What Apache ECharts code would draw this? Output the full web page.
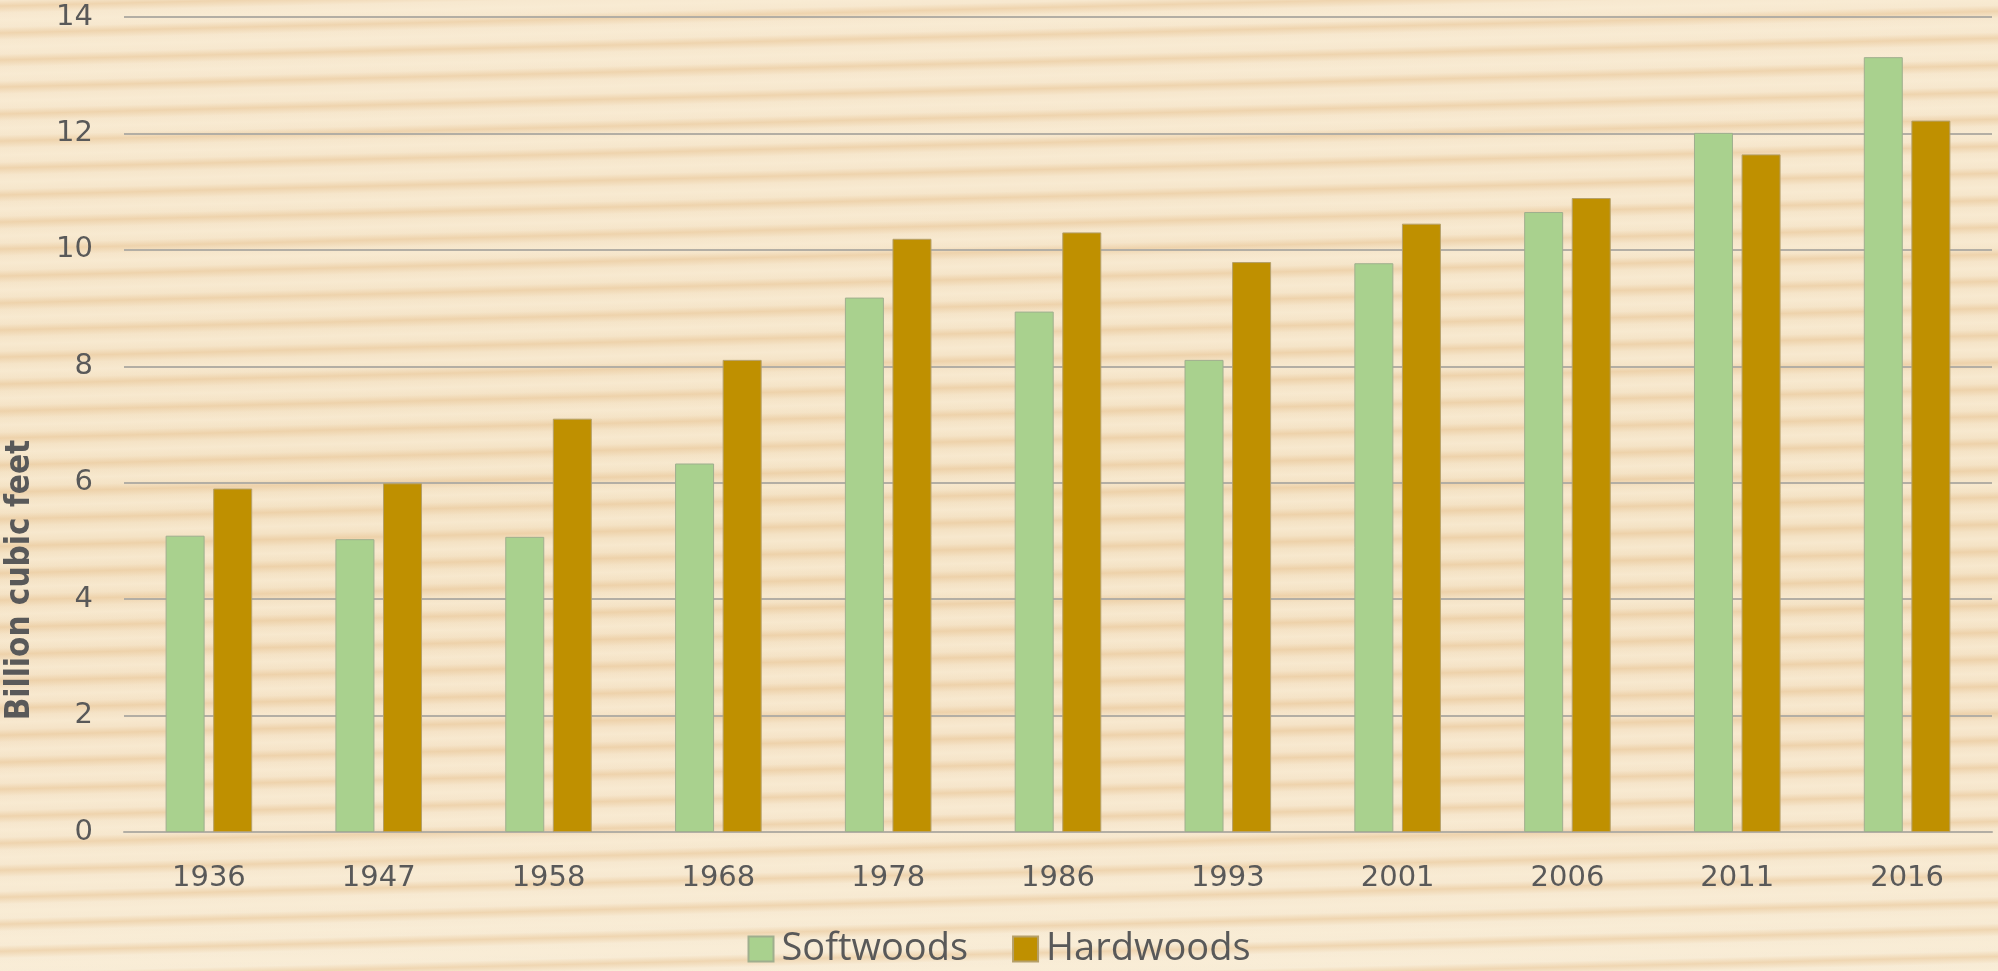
<!DOCTYPE html>
<html>
<head>
<meta charset="utf-8">
<title>Softwoods and Hardwoods</title>
<script src="https://cdn.jsdelivr.net/npm/echarts@6/dist/echarts.min.js"></script>
<style>
    html, body {
        margin: 0;
        padding: 0;
        width: 100%;
        height: 100%;
    }
    body {
        background-color: #f6e6cb;
        background-image:
            repeating-linear-gradient(178.6deg, rgba(232, 196, 148, 0) 0px, rgba(232, 196, 148, 0.55) 6px, rgba(232, 196, 148, 0) 13px, rgba(250, 238, 215, 0.5) 20px, rgba(232, 196, 148, 0) 27px),
            linear-gradient(180deg, #f7e8cf 0%, #f4e2c4 55%, #f5e3c7 75%, #f8ecd6 100%);
    }
    #chart {
        width: 1998px;
        height: 971px;
    }
</style>
</head>
<body>
<div id="chart"></div>
<script>
    var years = ['1936', '1947', '1958', '1968', '1978', '1986', '1993', '2001', '2006', '2011', '2016'];
    var softwoods = [5.09, 5.03, 5.07, 6.33, 9.18, 8.94, 8.11, 9.77, 10.65, 12.01, 13.31];
    var hardwoods = [5.90, 5.99, 7.10, 8.11, 10.19, 10.30, 9.79, 10.45, 10.89, 11.64, 12.22];
    var yTicks = [0, 2, 4, 6, 8, 10, 12, 14];

    var myChart = echarts.init(document.getElementById('chart'));
    var option = {
        backgroundColor: 'transparent',
        grid: {
            left: 124,
            right: 6,
            top: 17,
            bottom: 139
        },
        legend: {
            data: ['Softwoods', 'Hardwoods'],
            bottom: -2,
            left: 'center',
            icon: 'rect',
            itemWidth: 25,
            itemHeight: 25,
            itemGap: 44,
            textStyle: {
                fontFamily: 'Open Sans',
                fontSize: 38,
                color: '#595959',
                padding: [0, 0, 0, 3]
            }
        },
        graphic: [
            {
                type: 'text',
                x: 20,
                y: 580,
                rotation: Math.PI / 2,
                style: {
                    text: 'Billion cubic feet',
                    font: 'bold 33px "Liberation Sans Narrow", "DejaVu Sans Condensed", sans-serif',
                    fill: '#595959',
                    align: 'center',
                    verticalAlign: 'middle'
                }
            }
        ],
        xAxis: [
            {
                type: 'category',
                data: years,
                axisLine: {
                    lineStyle: { color: '#b3aea4', width: 2 }
                },
                axisTick: { show: false },
                axisLabel: {
                    margin: 32,
                    fontFamily: 'DejaVu Sans',
                    fontSize: 29,
                    color: '#595959'
                }
            }
        ],
        yAxis: [
            {
                type: 'value',
                min: yTicks[0],
                max: yTicks[yTicks.length - 1],
                interval: 2,
                axisLine: { show: false },
                axisTick: { show: false },
                splitLine: {
                    lineStyle: { color: '#b3aea4', width: 2 }
                },
                axisLabel: {
                    margin: 31,
                    fontFamily: 'DejaVu Sans',
                    fontSize: 29,
                    color: '#595959'
                }
            }
        ],
        series: [
            {
                name: 'Softwoods',
                type: 'bar',
                data: softwoods,
                barWidth: 39,
                barGap: '22%',
                itemStyle: {
                    color: '#a9d18e',
                    borderColor: '#9fae8e',
                    borderWidth: 1
                }
            },
            {
                name: 'Hardwoods',
                type: 'bar',
                data: hardwoods,
                barWidth: 39,
                barGap: '22%',
                itemStyle: {
                    color: '#bf9000',
                    borderColor: '#b5a06a',
                    borderWidth: 1
                }
            }
        ]
    };
    myChart.setOption(option);
</script>
</body>
</html>
